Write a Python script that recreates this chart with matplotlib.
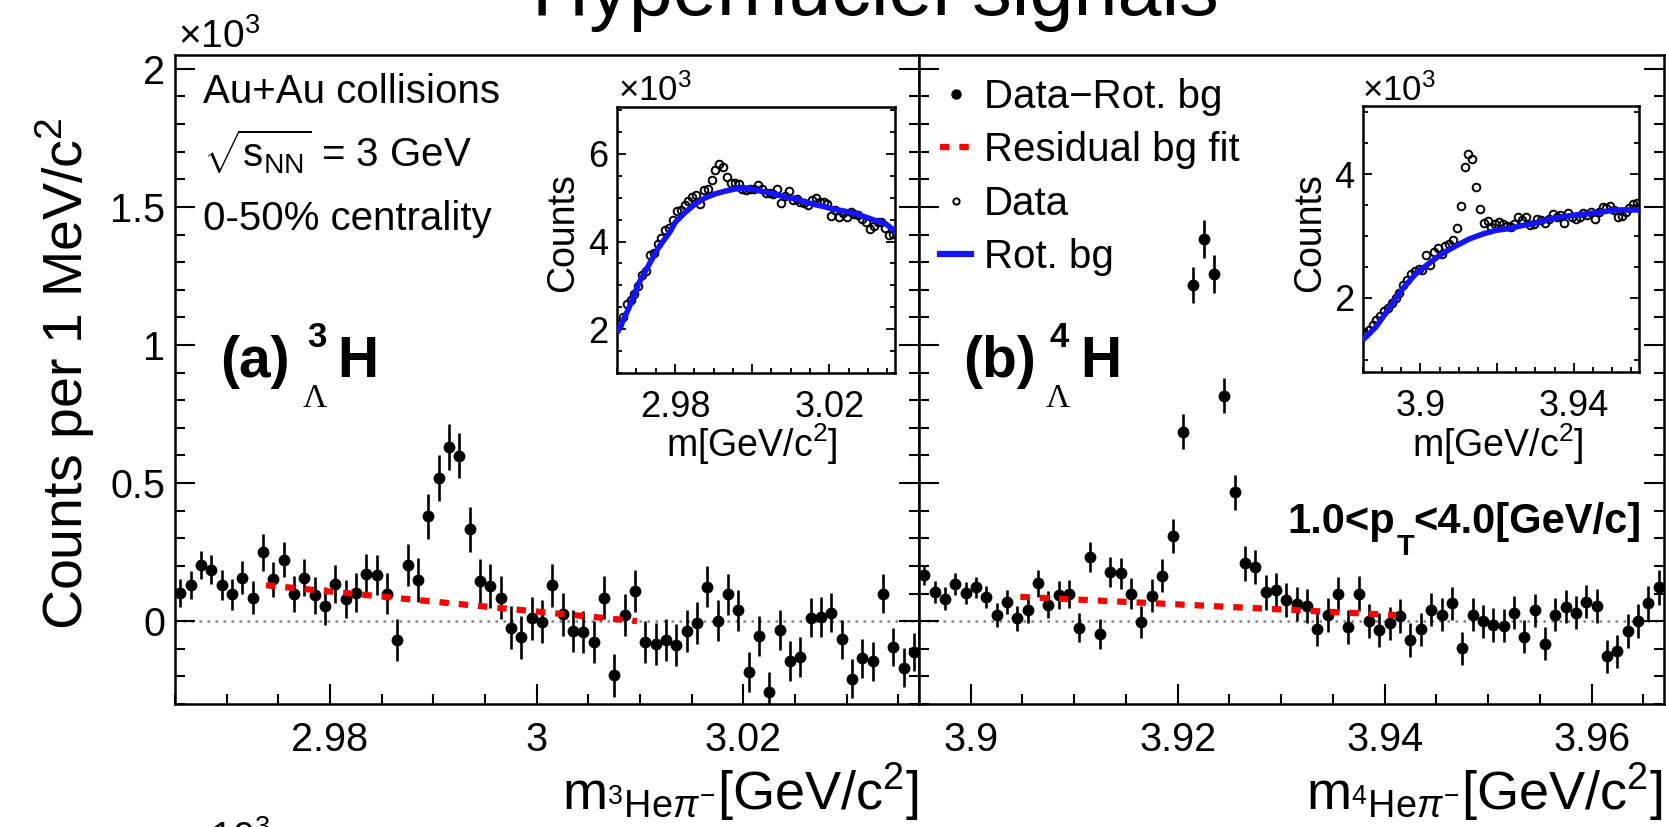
import numpy as np
import matplotlib
matplotlib.use("Agg")
import matplotlib.pyplot as plt
from matplotlib.lines import Line2D
from matplotlib.ticker import MultipleLocator, FixedLocator, FixedFormatter

# figure size in pixels (dpi 100)
W, H = 1666, 827

# histogram binning: 1 MeV bins
n_bins = 72
bin_w = 0.001
first_a = 2.9655
first_b = 3.8955

# Data - Rot. bg (x10^3 counts per MeV), panel (a) 3LH
res_a = [0.103, 0.130, 0.203, 0.187, 0.130, 0.098, 0.158, 0.085, 0.249, 0.151,
         0.223, 0.098, 0.158, 0.094, 0.055, 0.134, 0.080, 0.103, 0.170, 0.167,
         0.100, -0.069, 0.205, 0.149, 0.380, 0.517, 0.632, 0.599, 0.332, 0.145,
         0.127, 0.085, -0.023, -0.059, 0.010, -0.002, 0.130, 0.025, -0.036, -0.039,
         -0.075, 0.085, -0.196, 0.022, 0.109, -0.077, -0.081, -0.069, -0.087, -0.036,
         -0.006, 0.124, 0.001, 0.098, 0.040, -0.184, -0.054, -0.256, -0.033, -0.145,
         -0.129, 0.013, 0.016, 0.030, -0.066, -0.208, -0.135, -0.145, 0.100, -0.093,
         -0.168, -0.113]
err_a = [0.051, 0.050, 0.052, 0.054, 0.055, 0.056, 0.058, 0.060, 0.066, 0.062,
         0.064, 0.065, 0.066, 0.067, 0.068, 0.069, 0.070, 0.071, 0.072, 0.073,
         0.074, 0.075, 0.076, 0.078, 0.081, 0.083, 0.083, 0.082, 0.082, 0.080,
         0.080, 0.079, 0.079, 0.078, 0.078, 0.078, 0.078, 0.077, 0.077, 0.077,
         0.077, 0.077, 0.077, 0.077, 0.076, 0.076, 0.076, 0.075, 0.075, 0.075,
         0.075, 0.074, 0.074, 0.074, 0.074, 0.073, 0.073, 0.072, 0.072, 0.072,
         0.072, 0.072, 0.072, 0.071, 0.071, 0.071, 0.071, 0.071, 0.072, 0.070,
         0.070, 0.069]

# panel (b) 4LH
res_b = [0.167, 0.106, 0.082, 0.134, 0.103, 0.122, 0.088, 0.022, 0.070, 0.010,
         0.040, 0.137, 0.060, 0.094, 0.098, -0.024, 0.233, -0.047, 0.179, 0.173,
         0.100, -0.002, 0.092, 0.164, 0.309, 0.686, 1.217, 1.383, 1.257, 0.816,
         0.466, 0.209, 0.197, 0.104, 0.112, 0.076, 0.062, 0.055, -0.027, 0.022,
         0.098, -0.021, 0.100, 0.001, -0.033, -0.008, 0.019, -0.069, -0.029, 0.042,
         0.024, 0.064, -0.099, 0.024, 0.000, -0.014, -0.017, 0.031, -0.057, 0.040,
         -0.081, 0.024, 0.052, 0.031, 0.070, 0.055, -0.127, -0.109, -0.036, 0.001,
         0.064, 0.122]
err_b = [0.036, 0.039, 0.040, 0.040, 0.040, 0.039, 0.041, 0.043, 0.044, 0.045,
         0.046, 0.048, 0.049, 0.050, 0.051, 0.052, 0.054, 0.054, 0.055, 0.056,
         0.057, 0.058, 0.059, 0.060, 0.061, 0.063, 0.066, 0.069, 0.067, 0.063,
         0.062, 0.062, 0.062, 0.062, 0.062, 0.062, 0.062, 0.062, 0.062, 0.062,
         0.063, 0.062, 0.062, 0.061, 0.061, 0.061, 0.061, 0.061, 0.060, 0.060,
         0.060, 0.060, 0.060, 0.060, 0.060, 0.060, 0.060, 0.060, 0.060, 0.060,
         0.060, 0.060, 0.060, 0.060, 0.060, 0.060, 0.059, 0.060, 0.061, 0.062,
         0.063, 0.065]

# residual background fits
fit_a_x = [2.9738, 2.9919, 3.0097]
fit_a_y = [0.130, 0.064, 0.000]
fit_b_x = [3.9048, 3.9215, 3.9411]
fit_b_y = [0.088, 0.058, 0.022]

# insets: raw data (x10^3 counts) and rotated background
data_a = [2.11, 2.28, 2.57, 2.66, 2.81, 2.99, 3.23, 3.32, 3.69, 3.74,
          3.95, 4.08, 4.26, 4.31, 4.50, 4.69, 4.73, 4.83, 4.92, 5.01,
          5.06, 4.85, 5.17, 5.19, 5.41, 5.64, 5.77, 5.70, 5.48, 5.33,
          5.33, 5.32, 5.19, 5.17, 5.21, 5.19, 5.30, 5.21, 5.11, 5.10,
          5.08, 5.19, 4.88, 5.03, 5.16, 4.94, 4.98, 4.90, 4.87, 4.83,
          4.94, 5.00, 4.90, 4.90, 4.85, 4.58, 4.72, 4.55, 4.64, 4.55,
          4.67, 4.62, 4.60, 4.52, 4.44, 4.29, 4.35, 4.44, 4.44, 4.31,
          4.16, 4.18]
rot_a_x = [2.9654, 2.968, 2.9706, 2.9732, 2.9758, 2.9784, 2.9801, 2.9827, 2.9853, 2.9879,
           2.9905, 2.993, 2.9956, 2.9982, 3.0008, 3.0034, 3.006, 3.0086, 3.0112, 3.0138,
           3.0164, 3.0189, 3.0215, 3.0241, 3.0267, 3.0293, 3.0319, 3.0345, 3.0367]
rot_a_y = [1.98, 2.47, 3.04, 3.46, 3.87, 4.18, 4.44, 4.67, 4.86, 5.00,
           5.09, 5.15, 5.20, 5.22, 5.18, 5.13, 5.08, 5.01, 4.98, 4.90,
           4.84, 4.79, 4.73, 4.69, 4.64, 4.56, 4.48, 4.41, 4.26]

data_b = [1.42, 1.48, 1.56, 1.64, 1.70, 1.79, 1.84, 1.91, 1.99, 2.07,
          2.21, 2.29, 2.39, 2.44, 2.47, 2.45, 2.69, 2.53, 2.74, 2.80,
          2.71, 2.84, 2.87, 2.94, 3.13, 3.48, 4.12, 4.32, 4.24, 3.79,
          3.43, 3.21, 3.24, 3.15, 3.20, 3.23, 3.19, 3.16, 3.15, 3.19,
          3.30, 3.26, 3.30, 3.18, 3.20, 3.27, 3.26, 3.21, 3.27, 3.35,
          3.31, 3.34, 3.21, 3.37, 3.30, 3.27, 3.30, 3.37, 3.34, 3.39,
          3.28, 3.39, 3.46, 3.45, 3.48, 3.42, 3.30, 3.32, 3.39, 3.45,
          3.52, 3.54]
rot_b_x = [3.8953, 3.8984, 3.9019, 3.9054, 3.9088, 3.9123, 3.9158, 3.9193, 3.9227, 3.9262,
           3.9297, 3.9332, 3.9367, 3.9401, 3.9436, 3.9471, 3.9506, 3.954, 3.9575, 3.961,
           3.9645, 3.9667]
rot_b_y = [1.34, 1.53, 1.84, 2.15, 2.39, 2.56, 2.72, 2.84, 2.95, 3.03,
           3.09, 3.12, 3.17, 3.21, 3.27, 3.31, 3.34, 3.36, 3.39, 3.42,
           3.42, 3.42]

# axis ticks / labels
xlim_a = (2.965, 3.037)
xlim_b = (3.895, 3.967)
xticks_a = [2.98, 3.0, 3.02]
xlabels_a = ["2.98", "3", "3.02"]
xticks_b = [3.9, 3.92, 3.94, 3.96]
xlabels_b = ["3.9", "3.92", "3.94", "3.96"]
yticks_main = [0, 0.5, 1, 1.5, 2]
ylabels_main = ["0", "0.5", "1", "1.5", "2"]
in_xlabels_a = ["2.98", "", "3.02"]
in_xlabels_b = ["3.9", "", "3.94"]

mass_a = first_a + bin_w * np.arange(n_bins)
mass_b = first_b + bin_w * np.arange(n_bins)

plt.rcParams['font.family'] = ['Liberation Sans', 'DejaVu Sans']
plt.rcParams['mathtext.fontset'] = 'custom'
plt.rcParams['mathtext.rm'] = 'Liberation Sans'
plt.rcParams['mathtext.it'] = 'Liberation Sans:italic'
plt.rcParams['mathtext.bf'] = 'Liberation Sans:bold'
plt.rcParams['mathtext.sf'] = 'Liberation Sans'


def fx(x):
    return x / W


def fy(y):
    return 1 - y / H


def box(l, t, r, b):
    return [l / W, 1 - b / H, (r - l) / W, (b - t) / H]


fig = plt.figure(figsize=(W / 100, H / 100), dpi=100)

ax_a = fig.add_axes(box(175, 55, 919, 704))
ax_b = fig.add_axes(box(919, 55, 1664, 704))

for ax, m, r, e, fxs, fys, xl, xt, xtl in [
        (ax_a, mass_a, res_a, err_a, fit_a_x, fit_a_y, xlim_a, xticks_a, xlabels_a),
        (ax_b, mass_b, res_b, err_b, fit_b_x, fit_b_y, xlim_b, xticks_b, xlabels_b)]:
    ax.axhline(0, color='#808080', lw=1.8, ls=(0, (1, 2.2)), zorder=1)
    ax.errorbar(m, r, yerr=e, fmt='o', color='k', ms=7.5, elinewidth=1.9,
                capsize=0, zorder=3)
    ax.plot(fxs, fys, color='#ff0000', lw=4.5, dashes=(1.5, 1.6),
            dash_capstyle='butt', zorder=4)
    ax.set_xlim(*xl)
    ax.set_ylim(-0.3, 2.05)
    ax.xaxis.set_major_locator(FixedLocator(xt))
    ax.xaxis.set_major_formatter(FixedFormatter(xtl))
    ax.xaxis.set_minor_locator(MultipleLocator(0.005))
    ax.yaxis.set_major_locator(FixedLocator(yticks_main))
    ax.yaxis.set_major_formatter(FixedFormatter(ylabels_main))
    ax.yaxis.set_minor_locator(MultipleLocator(0.1))
    ax.tick_params(which='both', direction='in', top=False, right=True,
                   width=1.5, labelsize=28.5)
    ax.tick_params(which='major', length=14.4)
    ax.tick_params(which='minor', length=7.2)
    ax.tick_params(axis='x', pad=12)
    ax.tick_params(axis='y', pad=7)
    for s in ax.spines.values():
        s.set_linewidth(1.8)

ax_b.tick_params(labelleft=False)

# legend in panel (b)
handles = [
    Line2D([], [], ls='none', marker='o', color='k', ms=6.5),
    Line2D([], [], color='#ff0000', lw=4.5, dashes=(1.5, 1.6), dash_capstyle='butt'),
    Line2D([], [], ls='none', marker='o', mfc='none', mec='k', ms=4.5, mew=1.4),
    Line2D([], [], color='#1414ff', lw=4.5),
]
labels = ["Data\u2212Rot. bg", "Residual bg fit", "Data", "Rot. bg"]
ax_b.legend(handles, labels, loc='upper left', bbox_to_anchor=(fx(940), fy(78)),
            bbox_transform=fig.transFigure, frameon=False, fontsize=29,
            handlelength=0.78, handletextpad=0.3, labelspacing=0.38,
            borderpad=0, borderaxespad=0)

# insets
for box_px, m, d, rx, ry, xl, yl, xlabs, yt, lab_x, cnt_x, mul_x in [
        ((617, 107, 895, 373), mass_a, data_a, rot_a_x, rot_a_y, xlim_a, (1.0, 7.07),
         in_xlabels_a, [2, 4, 6], 752, 573, 618),
        ((1363, 106, 1639, 372), mass_b, data_b, rot_b_x, rot_b_y, xlim_b, (0.8, 5.1),
         in_xlabels_b, [2, 4], 1498, 1320, 1362)]:
    ins = fig.add_axes(box(*box_px))
    ins.plot(m, d, 'o', mfc='none', mec='k', ms=5.5, mew=1.4, zorder=2)
    ins.plot(rx, ry, color='#1414ff', lw=4, zorder=3)
    ins.set_xlim(*xl)
    ins.set_ylim(*yl)
    tk = [xl[0] + 0.015, xl[0] + 0.035, xl[0] + 0.055]
    ins.xaxis.set_major_locator(FixedLocator(tk))
    ins.xaxis.set_major_formatter(FixedFormatter(xlabs))
    ins.xaxis.set_minor_locator(MultipleLocator(0.005))
    ins.yaxis.set_major_locator(FixedLocator(yt))
    ins.yaxis.set_major_formatter(FixedFormatter([str(v) for v in yt]))
    ins.yaxis.set_minor_locator(MultipleLocator(0.5))
    ins.tick_params(which='both', direction='in', top=False, right=True,
                    width=1.3, labelsize=26)
    ins.tick_params(which='major', length=6.5)
    ins.tick_params(which='minor', length=3.3)
    ins.tick_params(axis='x', pad=12)
    ins.tick_params(axis='y', pad=6.5)
    for s in ins.spines.values():
        s.set_linewidth(1.8)
    fig.text(fx(lab_x), fy(457), "m[GeV/c$^{2}$]", fontsize=27,
             ha='center', va='baseline')
    fig.text(fx(cnt_x), fy(233), "Counts", fontsize=27, rotation=90,
             rotation_mode='anchor', ha='center', va='baseline')
    fig.text(fx(mul_x), fy(101), r"$\times$10$^{3}$", fontsize=25,
             ha='left', va='baseline')

# title (cut at the top of the picture)
fig.text(fx(875), fy(15), "Hypernuclei signals", fontsize=57,
         ha='center', va='baseline')

# axis titles
fig.text(fx(83), fy(374), "Counts per 1 MeV/c$^{2}$", fontsize=40, rotation=90,
         rotation_mode='anchor', ha='center', va='baseline')
fig.text(fx(919), fy(810), r"m$_{^{3}\mathrm{He}\pi^{-}}$[GeV/c$^{2}$]",
         fontsize=39, ha='right', va='baseline')
fig.text(fx(1663), fy(810), r"m$_{^{4}\mathrm{He}\pi^{-}}$[GeV/c$^{2}$]",
         fontsize=39, ha='right', va='baseline')
fig.text(fx(178), fy(48), r"$\times$10$^{3}$", fontsize=28, ha='left', va='baseline')
fig.text(fx(188), fy(850), r"$\times$10$^{3}$", fontsize=28, ha='left', va='baseline')

# collision info
fig.text(fx(203), fy(103), "Au+Au collisions", fontsize=29, va='baseline')
fig.text(fx(203), fy(167), r"$\sqrt{\mathrm{s}_{\mathrm{NN}}}$ = 3 GeV", fontsize=29,
         va='baseline')
fig.text(fx(203), fy(230), "0-50% centrality", fontsize=29, va='baseline')

# panel labels
for x0, a_num, tag in [(220, "3", "(a)"), (963, "4", "(b)")]:
    fig.text(fx(x0), fy(377), tag, fontsize=41, fontweight='bold', va='baseline')
    fig.text(fx(x0 + 87), fy(347), a_num, fontsize=25, fontweight='bold', va='baseline')
    fig.text(fx(x0 + 83), fy(407), "\u039b", fontsize=24,
             family=['Liberation Serif', 'DejaVu Serif'], va='baseline')
    fig.text(fx(x0 + 117), fy(377), "H", fontsize=41, fontweight='bold', va='baseline')

# pT range
fig.text(fx(1395), fy(533), "1.0<p", fontsize=30, fontweight='bold',
         ha='right', va='baseline')
fig.text(fx(1397), fy(555), "T", fontsize=21, fontweight='bold', va='baseline')
fig.text(fx(1413), fy(533), "<4.0[GeV/c]", fontsize=30, fontweight='bold',
         va='baseline')

fig.savefig("out.png", dpi=100)
